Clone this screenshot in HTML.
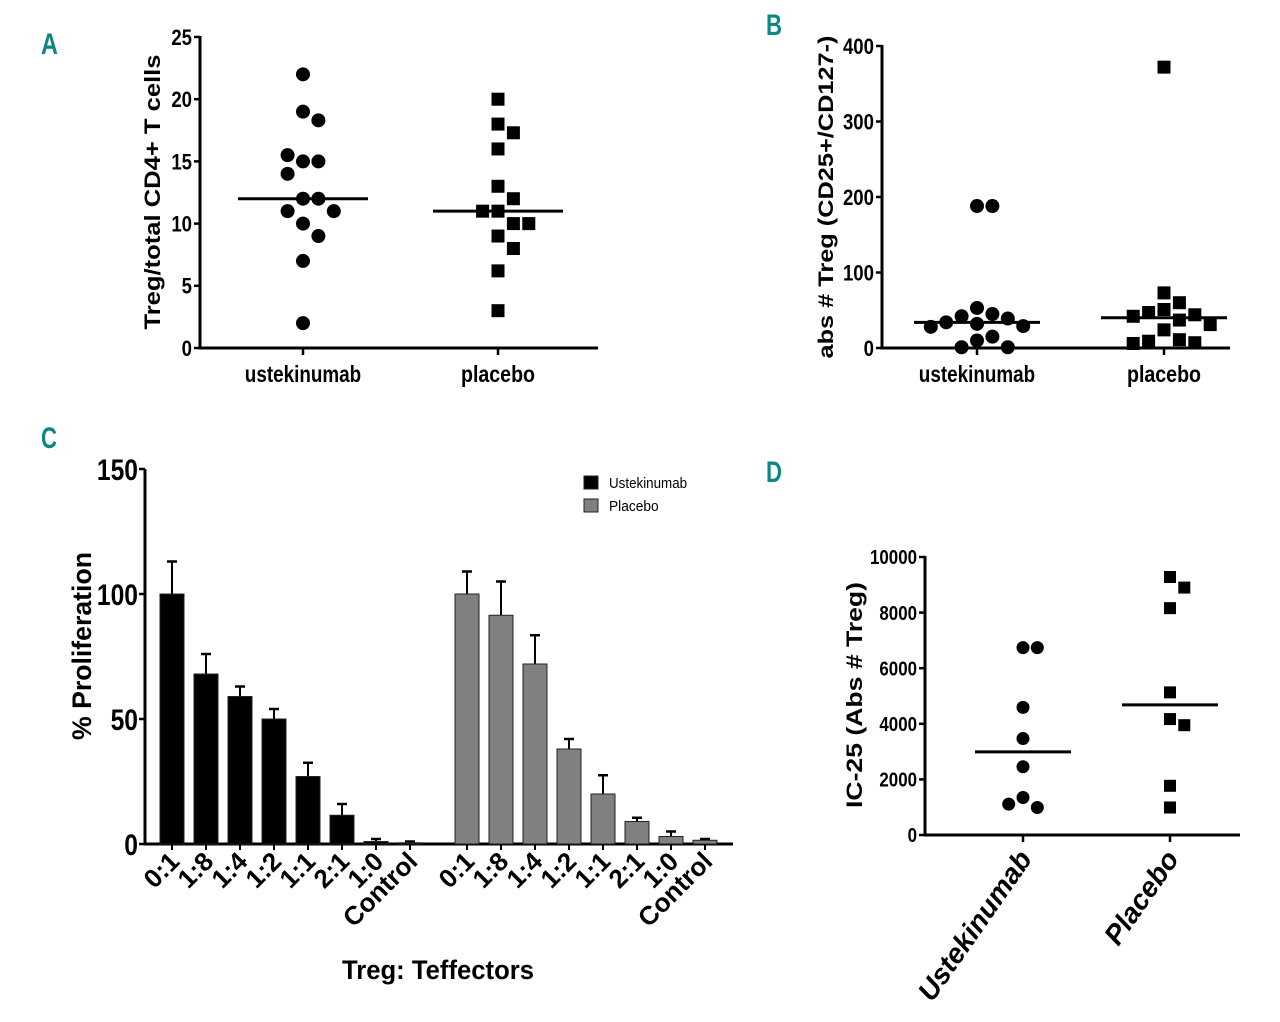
<!DOCTYPE html>
<html><head><meta charset="utf-8"><style>
html,body{margin:0;padding:0;background:#fff;}
svg{display:block;}
text{font-family:"Liberation Sans",sans-serif;font-weight:bold;fill:#000;}
.pl{fill:#0f8585;font-size:30px;}
</style></head><body>
<svg id="fig" width="1280" height="1022" viewBox="0 0 1280 1022">
<text class="pl" x="41" y="54" textLength="17" lengthAdjust="spacingAndGlyphs">A</text>
<text class="pl" x="766" y="35" textLength="16" lengthAdjust="spacingAndGlyphs">B</text>
<text class="pl" x="41" y="448" textLength="16" lengthAdjust="spacingAndGlyphs">C</text>
<text class="pl" x="766" y="482" textLength="16" lengthAdjust="spacingAndGlyphs">D</text>
</svg>
<script>
// Panel A data
const aCats = ["ustekinumab","placebo"];
const aUst = [22,19,18.3,15,15,15.5,14,12,12,11,11,10,9,7,2];
const aPla = [20,18,17.3,16,13,12,11,11,10,10,9,8,6.2,3];
const aMed = [12,11];
const aTicks = [0,5,10,15,20,25];
// Panel B data
const bCats = ["ustekinumab","placebo"];
const bUst = [188,188,53,45,42,39,34,32,29,28,15,10,1,1];
const bPla = [372,73,60,51,47,44,42,37,31,24,11,9,7,6];
const bMed = [34,40];
const bTicks = [0,100,200,300,400];
// Panel C data
const cCats = ["0:1","1:8","1:4","1:2","1:1","2:1","1:0","Control"];
const cUst = [100,68,59,50,27,11.5,1,0.5];
const cUstErr = [13,8,4,4,5.5,4.5,1,0.5];
const cPla = [100,91.5,72,38,20,9,3,1.5];
const cPlaErr = [9,13.5,11.5,4,7.5,1.5,2,0.5];
const cTicks = [0,50,100,150];
// Panel D data
const dCats = ["Ustekinumab","Placebo"];
const dUst = [6740,6740,4590,3470,2455,1350,990,1110];
const dPla = [9280,8900,8160,5130,4170,3950,1770,990];
const dMed = [2990,4680];
const dTicks = [0,2000,4000,6000,8000,10000];

const NS="http://www.w3.org/2000/svg";
const svg=document.getElementById('fig');
function mk(tag,attrs,parent){const e=document.createElementNS(NS,tag);for(const k in attrs)e.setAttribute(k,attrs[k]);(parent||svg).appendChild(e);return e;}
function lin(d0,d1,r0,r1){return v=>r0+(v-d0)*(r1-r0)/(d1-d0);}
function fit(t,w){t.setAttribute('textLength',w);t.setAttribute('lengthAdjust','spacingAndGlyphs');}

function swarm(vals,y,cx,d){
  const placed=[];const out=[];
  vals.forEach(v=>{const py=y(v);let off=0;
    for(let k=0;k<14;k++){const cand=k===0?0:(k%2?1:-1)*Math.ceil(k/2)*d*0.55;
      if(placed.every(p=>Math.hypot(p[0]-(cx+cand),p[1]-py)>=d*1.08)){off=cand;break;}}
    placed.push([cx+off,py]);out.push([cx+off,py]);});
  return out;
}

function scatterPanel(o){
  const g=mk('g',{});
  
  
  const y=lin(0,o.max,o.y0,o.y1);
  mk('line',{x1:o.ax,y1:o.y1-1,x2:o.ax,y2:o.y0+1.5,stroke:'#000','stroke-width':3},g);
  mk('line',{x1:o.ax,y1:o.y0,x2:o.xend,y2:o.y0,stroke:'#000','stroke-width':3},g);
  o.ticks.forEach(t=>{
    mk('line',{x1:o.ax-6,y1:y(t),x2:o.ax,y2:y(t),stroke:'#000','stroke-width':2.5},g);
    const tx=mk('text',{x:o.ax-8,y:y(t)+o.fs*0.36,'text-anchor':'end','font-size':o.fs},g);
    tx.textContent=t;
    fit(tx,String(t).length*o.fs*0.47);
    
    
  });
  o.cx.forEach((cx,i)=>{
    mk('line',{x1:cx,y1:o.y0,x2:cx,y2:o.y0+7,stroke:'#000','stroke-width':2.5},g);
    const tx=mk('text',{'font-size':o.cfs},g);
    tx.textContent=o.cats[i];
    
    
    if(o.rot){tx.setAttribute('text-anchor','end');tx.setAttribute('transform',`translate(${cx+10},${o.y0+24}) rotate(-55)`);
      tx.setAttribute('font-style','italic');}
    else{tx.setAttribute('x',cx);tx.setAttribute('y',o.y0+34);tx.setAttribute('text-anchor','middle');fit(tx,o.cats[i].length*o.cfs*0.46);}
  });
  [o.s1,o.s2].forEach((vals,si)=>{
    const pts=swarm(vals,y,o.cx[si],o.d);
    pts.forEach(p=>{
      let m;
      if(si===0)m=mk('circle',{cx:p[0],cy:p[1],r:o.d/2,fill:'#000'},g);
      else m=mk('rect',{x:p[0]-o.d/2+0.5,y:p[1]-o.d/2+0.5,width:o.d-1,height:o.d-1,fill:'#000'},g);
      
      
    });
    const ml=mk('line',{x1:o.cx[si]-o.mw,y1:y(o.med[si]),x2:o.cx[si]+o.mw,y2:y(o.med[si]),stroke:'#000','stroke-width':3},g);
    
    
  });
  const yt=mk('text',{'font-size':o.tfs,'text-anchor':'middle',transform:`translate(${o.tx},${o.ty}) rotate(-90)`},g);
  yt.textContent=o.title;
  fit(yt,o.tlen);
  
  
}

scatterPanel({name:'panel-a',ax:200,xend:598,y0:348,y1:37,max:25,ticks:aTicks,fs:22,cfs:23,cats:aCats,cx:[303,498],
  s1:aUst,s2:aPla,med:aMed,d:14,mw:65,title:'Treg/total CD4+ T cells',tfs:22,tlen:275,tx:160,ty:192});
scatterPanel({name:'panel-b',ax:882,xend:1230,y0:348,y1:46,max:400,ticks:bTicks,fs:22,cfs:23,cats:bCats,cx:[977,1164],
  s1:bUst,s2:bPla,med:bMed,d:14,mw:63,title:'abs # Treg (CD25+/CD127-)',tfs:21,tlen:323,tx:833,ty:197});
scatterPanel({name:'panel-d',ax:925,xend:1240,y0:835,y1:557,max:10000,ticks:dTicks,fs:20,cfs:28,cats:dCats,cx:[1023,1170],
  s1:dUst,s2:dPla,med:dMed,d:13,mw:48,title:'IC-25 (Abs # Treg)',tfs:22,tlen:226,tx:862,ty:695,rot:true});

// Panel C bar chart
(function(){
  const g=mk('g',{});
  
  
  const ax=145,y0=844,y1=469;
  const y=lin(0,150,y0,y1);
  const bw=24,step=34;
  const start=[172,467];
  mk('line',{x1:ax,y1:y1,x2:ax,y2:y0+1.5,stroke:'#000','stroke-width':3},g);
  mk('line',{x1:ax,y1:y0,x2:733,y2:y0,stroke:'#000','stroke-width':3},g);
  cTicks.forEach(t=>{
    mk('line',{x1:ax-6,y1:y(t),x2:ax,y2:y(t),stroke:'#000','stroke-width':2.5},g);
    const tx=mk('text',{x:ax-7,y:y(t)+11,'text-anchor':'end','font-size':30},g);
    tx.textContent=t;
    fit(tx,String(t).length*13.7);
    
    
  });
  [[cUst,cUstErr,'#000','ustekinumab'],[cPla,cPlaErr,'#808080','placebo']].forEach((s,si)=>{
    s[0].forEach((v,i)=>{
      const cx=start[si]+i*step;
      const top=y(v+s[1][i]);
      mk('line',{x1:cx,y1:y(v),x2:cx,y2:top,stroke:'#000','stroke-width':2},g);
      mk('line',{x1:cx-5,y1:top,x2:cx+5,y2:top,stroke:'#000','stroke-width':2.5},g);
      const b=mk('rect',{x:cx-bw/2,y:y(v),width:bw,height:y0-y(v),fill:s[2],stroke:'#222','stroke-width':1},g);
      
      
      mk('line',{x1:cx,y1:y0,x2:cx,y2:y0+6,stroke:'#000','stroke-width':2},g);
      const tx=mk('text',{'font-size':26,'text-anchor':'end',transform:`translate(${cx+9},${y0+19}) rotate(-45)`},g);
      tx.textContent=cCats[i];
      
      
    });
  });
  const yt=mk('text',{'font-size':27,'text-anchor':'middle',transform:'translate(91,646) rotate(-90)'},g);
  yt.textContent='% Proliferation';
  fit(yt,188);
  
  
  const xt=mk('text',{'font-size':27,'text-anchor':'middle',x:438,y:979},g);
  xt.textContent='Treg: Teffectors';
  fit(xt,192);
  
  
  [['Ustekinumab','#000',476],['Placebo','#808080',499]].forEach(l=>{
    const r=mk('rect',{x:584,y:l[2],width:14,height:13,fill:l[1],stroke:'#222','stroke-width':1},g);
    
    
    const t=mk('text',{x:609,y:l[2]+12,'font-size':15,'style':'font-weight:normal'},g);
    t.textContent=l[0];
    fit(t,l[0].length*7.1);
    
    
  });
})();
</script>
</body></html>
